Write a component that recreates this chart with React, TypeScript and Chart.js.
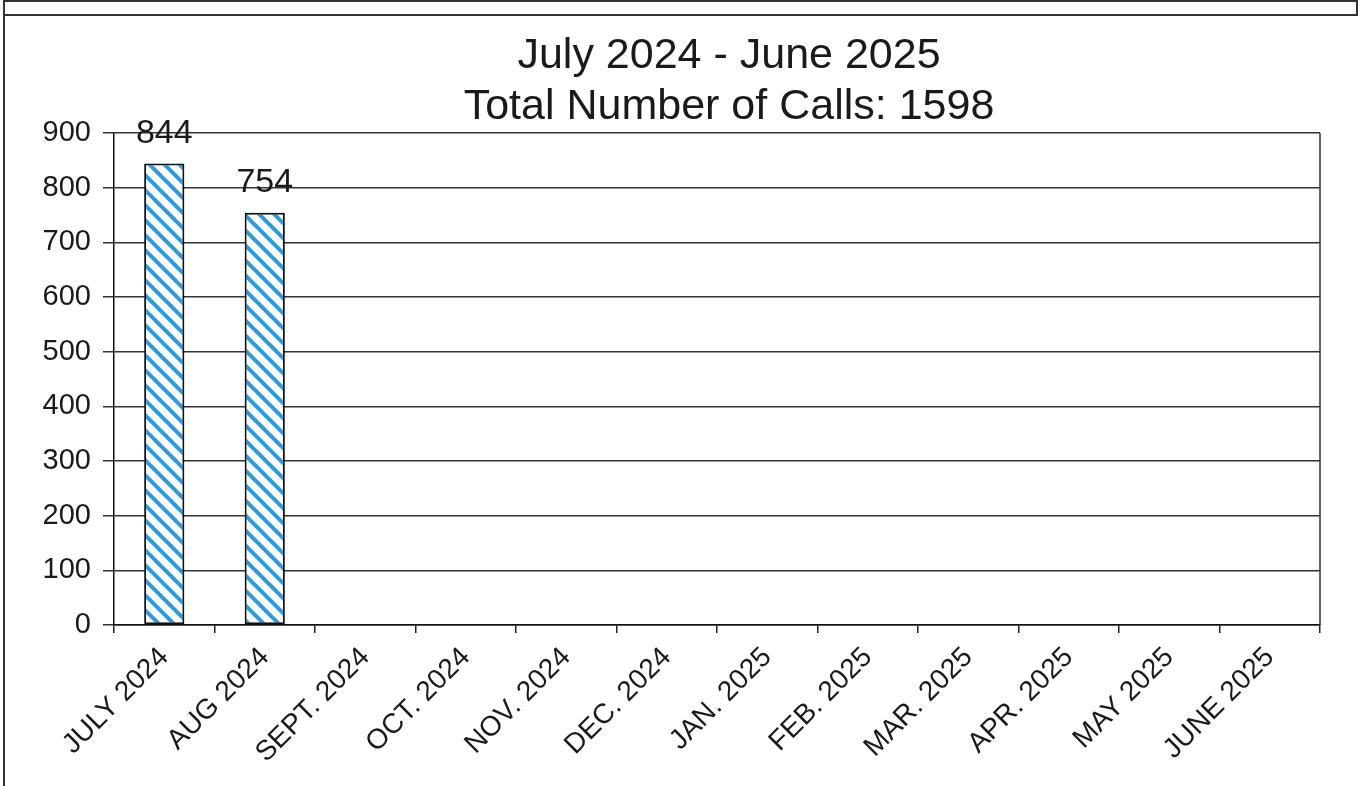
import React, { useEffect, useRef } from "react";
import { Chart, registerables } from "chart.js";
Chart.register(...registerables);

const CATEGORIES = [
  "JULY 2024", "AUG 2024", "SEPT. 2024", "OCT. 2024", "NOV. 2024", "DEC. 2024",
  "JAN. 2025", "FEB. 2025", "MAR. 2025", "APR. 2025", "MAY 2025", "JUNE 2025",
];
const CALLS: (number | null)[] = [844, 754, null, null, null, null, null, null, null, null, null, null];
const TITLE_LINES = ["July 2024 - June 2025", "Total Number of Calls: 1598"];
const Y_MIN = 0;
const Y_MAX = 900;
const Y_STEP = 100;

const FONT = "'Liberation Sans', Arial, sans-serif";

function makePattern(): CanvasPattern | string {
  const s = 15;
  const c = document.createElement("canvas");
  c.width = s;
  c.height = s;
  const g = c.getContext("2d");
  if (!g) return "#2a9be0";
  g.fillStyle = "#ffffff";
  g.fillRect(0, 0, s, s);
  g.strokeStyle = "#2a9be0";
  g.lineWidth = 4;
  for (const k of [-1, 0, 1]) {
    g.beginPath();
    g.moveTo(k * s - 2, -2);
    g.lineTo(k * s + s + 2, s + 2);
    g.stroke();
  }
  const ctx = document.createElement("canvas").getContext("2d");
  return (ctx && ctx.createPattern(c, "repeat")) || "#2a9be0";
}

export default function App() {
  const ref = useRef<HTMLCanvasElement | null>(null);

  useEffect(() => {
    document.body.style.margin = "0";
    const canvas = ref.current;
    if (!canvas) return;

    const framePlugin = {
      id: "frame",
      beforeDraw(chart: any) {
        const { ctx, width, height } = chart;
        ctx.save();
        ctx.fillStyle = "#ffffff";
        ctx.fillRect(0, 0, width, height);
        ctx.strokeStyle = "#333";
        ctx.lineWidth = 2;
        ctx.beginPath();
        ctx.moveTo(4, 1);
        ctx.lineTo(1357, 1);
        ctx.moveTo(4, 15);
        ctx.lineTo(1357, 15);
        ctx.moveTo(1357, 0);
        ctx.lineTo(1357, 16);
        ctx.moveTo(4, 0);
        ctx.lineTo(4, height);
        ctx.stroke();
        ctx.restore();
      },
      afterDraw(chart: any) {
        const { ctx, chartArea } = chart;
        ctx.save();
        ctx.strokeStyle = "#333";
        ctx.lineWidth = 1.5;
        ctx.beginPath();
        ctx.moveTo(chartArea.right, chartArea.top);
        ctx.lineTo(chartArea.right, chartArea.bottom);
        ctx.stroke();
        ctx.fillStyle = "#1a1a1a";
        ctx.font = `43px ${FONT}`;
        ctx.textAlign = "center";
        ctx.textBaseline = "alphabetic";
        const cx = (chartArea.left + chartArea.right) / 2 + 12;
        ctx.fillText(TITLE_LINES[0], cx, 68);
        ctx.fillText(TITLE_LINES[1], cx, 119);
        ctx.restore();
      },
      afterDatasetsDraw(chart: any) {
        const { ctx } = chart;
        const meta = chart.getDatasetMeta(0);
        ctx.save();
        ctx.fillStyle = "#1a1a1a";
        ctx.font = `34px ${FONT}`;
        ctx.textAlign = "center";
        ctx.textBaseline = "alphabetic";
        meta.data.forEach((bar: any, i: number) => {
          const v = CALLS[i];
          if (v == null) return;
          ctx.fillText(String(v), bar.x, bar.y - 21);
        });
        ctx.restore();
      },
    };

    const chart = new Chart(canvas, {
      type: "bar",
      data: {
        labels: CATEGORIES,
        datasets: [
          {
            data: CALLS as any,
            backgroundColor: makePattern() as any,
            borderColor: "#111",
            borderWidth: 2,
            borderSkipped: false,
            barPercentage: 0.4,
            categoryPercentage: 1,
          },
        ],
      },
      options: {
        animation: false,
        responsive: false,
        maintainAspectRatio: false,
        devicePixelRatio: 1,
        layout: { padding: { top: 133, left: 0, right: 42, bottom: 0 } },
        plugins: {
          legend: { display: false },
          tooltip: { enabled: false },
          title: { display: false },
        },
        scales: {
          x: {
            offset: true,
            grid: {
              display: true,
              offset: true,
              drawOnChartArea: false,
              drawTicks: true,
              tickLength: 8,
              color: "#222",
              lineWidth: 1.5,
            },
            border: { display: true, color: "#111", width: 1.5 },
            ticks: {
              minRotation: 45,
              maxRotation: 45,
              autoSkip: false,
              padding: 8,
              color: "#1a1a1a",
              font: { size: 28, family: FONT },
            },
            afterFit(scale: any) {
              scale.height = 161;
            },
          },
          y: {
            min: Y_MIN,
            max: Y_MAX,
            ticks: {
              stepSize: Y_STEP,
              padding: 12,
              color: "#1a1a1a",
              font: { size: 29, family: FONT },
            },
            grid: {
              color: "#333",
              lineWidth: 1.5,
              drawTicks: true,
              tickLength: 11,
            },
            border: { display: true, color: "#111", width: 1.5 },
            afterFit(scale: any) {
              scale.width = 114;
            },
          },
        },
      },
      plugins: [framePlugin],
    });

    return () => chart.destroy();
  }, []);

  return (
    <div style={{ width: 1362, height: 786, position: "relative" }}>
      <canvas ref={ref} width={1362} height={786} style={{ display: "block", width: 1362, height: 786 }} />
    </div>
  );
}
